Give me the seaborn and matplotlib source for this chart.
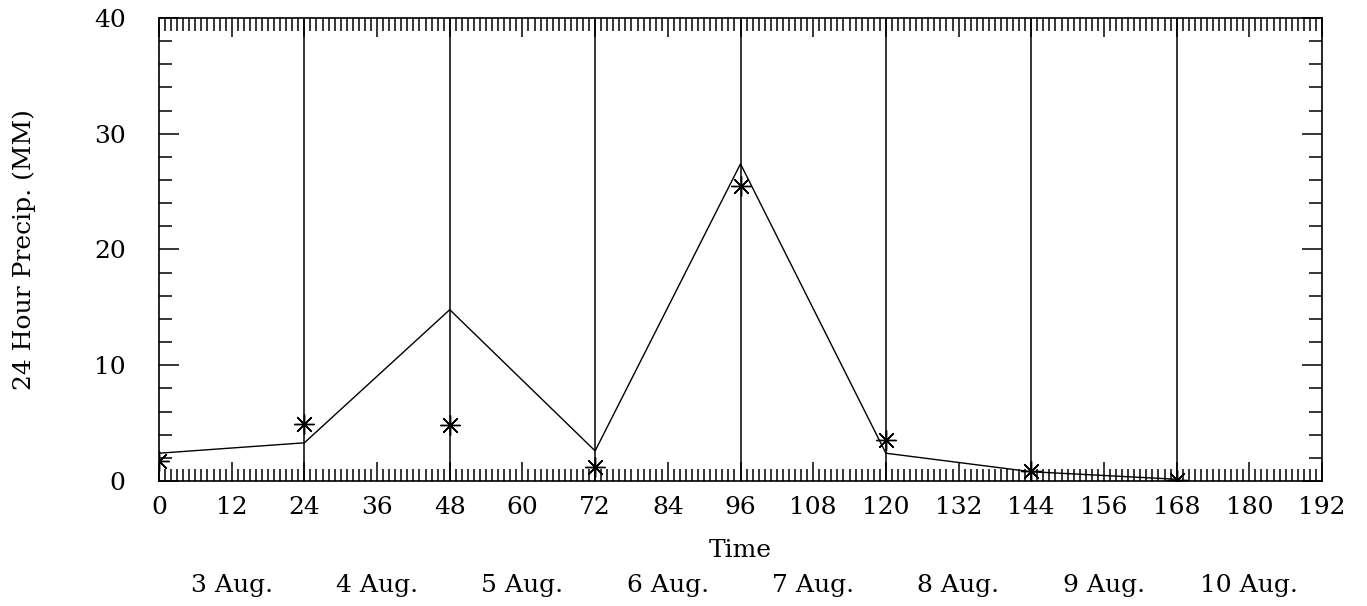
import matplotlib
matplotlib.use("Agg")
import matplotlib.pyplot as plt
import seaborn as sns
import pandas as pd
from matplotlib.ticker import MultipleLocator
from matplotlib import transforms

# ---- data ----
hours = [0, 24, 48, 72, 96, 120, 144, 168]
forecast_mm = [2.4, 3.3, 14.8, 2.6, 27.4, 2.4, 0.8, 0.15]
observed_mm = [1.7, 4.9, 4.8, 1.2, 25.5, 3.5, 0.9, 0.1]
day_boundaries = [24, 48, 72, 96, 120, 144, 168]
date_label_hours = [12, 36, 60, 84, 108, 132, 156, 180]
date_labels = ["3 Aug.", "4 Aug.", "5 Aug.", "6 Aug.", "7 Aug.", "8 Aug.", "9 Aug.", "10 Aug."]
x_ticks = list(range(0, 193, 12))

sns.set_style("white")
plt.rcParams["font.family"] = ["DejaVu Serif", "DejaVu Sans"]
plt.rcParams["font.size"] = 18
plt.rcParams["text.color"] = "black"
plt.rcParams["axes.labelcolor"] = "black"
plt.rcParams["xtick.color"] = "black"
plt.rcParams["ytick.color"] = "black"

df_line = pd.DataFrame({"hour": hours, "precip": forecast_mm})
df_obs = pd.DataFrame({"hour": hours, "precip": observed_mm})

fig, ax = plt.subplots(figsize=(13.67, 6.06), dpi=100)
fig.subplots_adjust(left=159/1367, right=1322/1367, top=1-18/606, bottom=1-481/606)

for xb in day_boundaries:
    ax.axvline(xb, color="black", lw=1.1, zorder=1)

sns.lineplot(data=df_line, x="hour", y="precip", ax=ax, color="black", lw=1.0, zorder=3)
sns.scatterplot(data=df_obs, x="hour", y="precip", ax=ax, marker=(8, 2, 0), s=200,
                color="black", linewidth=1.0, zorder=4)

ax.set_xlim(0, 192)
ax.set_ylim(0, 40)
ax.set_xticks(x_ticks)
ax.set_xticklabels([str(t) for t in x_ticks])
ax.xaxis.set_minor_locator(MultipleLocator(1))
ax.set_yticks([0, 10, 20, 30, 40])
ax.yaxis.set_minor_locator(MultipleLocator(2))

ax.tick_params(axis="both", which="both", direction="in", top=True, right=True,
               bottom=True, left=True, color="black", width=1.1)
ax.tick_params(axis="x", which="major", length=13.5, pad=11)
ax.tick_params(axis="x", which="minor", length=9)
ax.tick_params(axis="y", which="major", length=14.5, pad=24)
ax.tick_params(axis="y", which="minor", length=9.5)

for sp in ax.spines.values():
    sp.set_color("black")
    sp.set_linewidth(1.2)

ax.set_xlabel("Time", labelpad=14)
ax.set_ylabel("24 Hour Precip. (MM)", labelpad=42)

trans = transforms.blended_transform_factory(ax.transData, ax.transAxes)
for h, lab in zip(date_label_hours, date_labels):
    ax.text(h, -0.225, lab, transform=trans, ha="center", va="center", fontsize=18)

fig.savefig("out.png", dpi=100)
